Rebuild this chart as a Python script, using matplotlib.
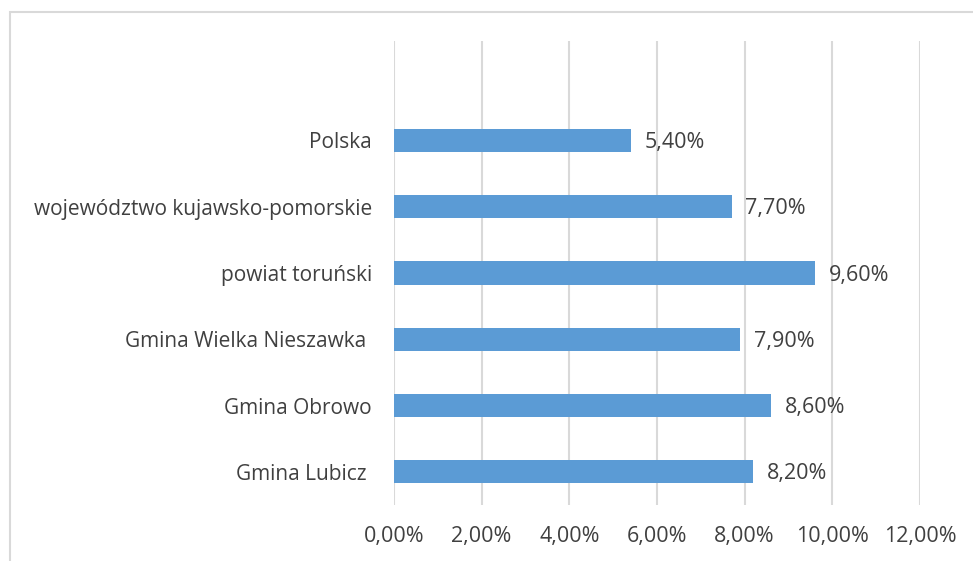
import matplotlib.pyplot as plt
from matplotlib.patches import Rectangle

# data (bottom to top), top slot left empty as in the source chart
categories = ["Gmina Lubicz ", "Gmina Obrowo", "Gmina Wielka Nieszawka ",
              "powiat toruński", "województwo kujawsko-pomorskie", "Polska"]
values = [8.2, 8.6, 7.9, 9.6, 7.7, 5.4]
xticks = [0, 2, 4, 6, 8, 10, 12]

bar_color = "#5B9BD5"
text_color = "#404040"
grid_color = "#D9D9D9"

plt.rcParams['font.family'] = ['Open Sans', 'DejaVu Sans']

fig = plt.figure(figsize=(9.73, 5.61), dpi=100)
ax = fig.add_axes([394/973, 1 - 505/561, (920 - 394)/973, (505 - 41)/561])

y = list(range(len(categories)))
ax.barh(y, values, height=0.35, color=bar_color, zorder=3)

for yi, v in zip(y, values):
    ax.annotate(f"{v:.2f}%".replace(".", ","), xy=(v, yi), xytext=(10, -1.5),
                textcoords="offset points", va="center", ha="left",
                fontsize=15.5, color=text_color)

ax.set_xlim(0, 12)
ax.set_ylim(-0.5, 6.5)
ax.set_xticks(xticks)
ax.set_xticklabels([f"{t:.2f}%".replace(".", ",") for t in xticks])
ax.set_yticks(y)
ax.set_yticklabels(categories)
ax.tick_params(axis="both", length=0, labelcolor=text_color)
ax.tick_params(axis="x", pad=15, labelsize=15.5)
ax.tick_params(axis="y", pad=16, labelsize=15)

ax.grid(axis="x", color=grid_color, linewidth=1.5, zorder=0)
for s in ax.spines.values():
    s.set_visible(False)

# chart area border (runs off the right and bottom edges)
fig.patches.append(Rectangle((10/973, -0.05), 1.05, 1 - 12/561 + 0.05,
                             transform=fig.transFigure, fill=False,
                             edgecolor=grid_color, linewidth=1.5))

fig.savefig("out.png", dpi=100)
